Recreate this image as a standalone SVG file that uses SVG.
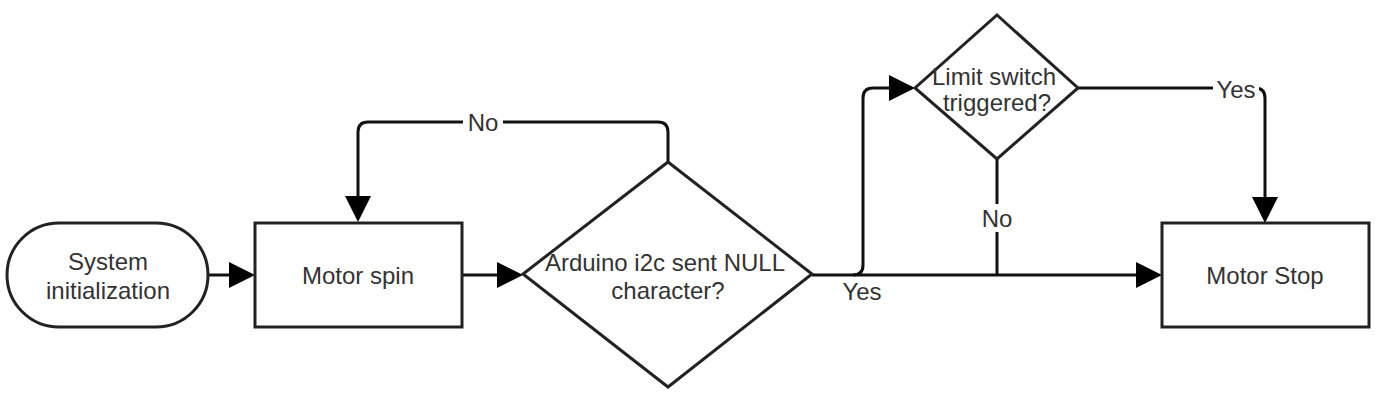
<svg xmlns="http://www.w3.org/2000/svg" width="1397" height="400" viewBox="0 0 1397 400">
<defs>
<marker id="arr" viewBox="0 0 26 26" refX="2" refY="13" markerWidth="26" markerHeight="26" markerUnits="userSpaceOnUse" orient="auto">
<path d="M0,0 L26,13 L0,26 z" fill="#000"/>
</marker>
<style>
.shape{fill:#fff;stroke:#222;stroke-width:3}
.t{font-family:"Liberation Sans",Arial,sans-serif;font-size:24px;fill:#333;text-anchor:middle;dominant-baseline:central}
.c{fill:none;stroke:#111;stroke-width:3}
.bg{fill:#fff}
</style>
</defs>
<rect width="1397" height="400" fill="#fff"/>
<g id="connectors">
<path class="c" d="M208,275 L231,275" marker-end="url(#arr)"/>
<path class="c" d="M462,275 L499,275" marker-end="url(#arr)"/>
<path class="c" d="M668,162 V132 Q668,122 658,122 H368 Q358,122 358,132 V198" marker-end="url(#arr)"/>
<path class="c" d="M812,275 H1138" marker-end="url(#arr)"/>
<path class="c" d="M853,275 Q863,275 863,265 V98 Q863,88 873,88 H891" marker-end="url(#arr)"/>
<path class="c" d="M1078,88 H1255 Q1265,88 1265,98 V199" marker-end="url(#arr)"/>
<path class="c" d="M997,159 V275"/>
<rect class="bg" x="463" y="110" width="40" height="24"/>
<text class="t" x="483" y="122">No</text>
<rect class="bg" x="1213" y="77" width="46" height="24"/>
<text class="t" x="1236" y="89">Yes</text>
<rect class="bg" x="980" y="204" width="34" height="28"/>
<text class="t" x="997" y="218">No</text>
<text class="t" x="862" y="291">Yes</text>
</g>
<g id="start">
<rect class="shape" x="7" y="223" width="201" height="104" rx="52" ry="52"/>
<text class="t" x="108" y="261">System</text>
<text class="t" x="108" y="290">initialization</text>
</g>
<g id="motor-spin">
<rect class="shape" x="255" y="223" width="207" height="104"/>
<text class="t" x="358" y="275">Motor spin</text>
</g>
<g id="null-check">
<polygon class="shape" points="668,162 812,274 668,387 523,274"/>
<text class="t" x="665" y="262">Arduino i2c sent NULL</text>
<text class="t" x="668" y="290">character?</text>
</g>
<g id="limit-check">
<polygon class="shape" points="997,15 1078,88 997,159 915,88"/>
<text class="t" x="994" y="76">Limit switch</text>
<text class="t" x="997" y="102">triggered?</text>
</g>
<g id="motor-stop">
<rect class="shape" x="1162" y="223" width="207" height="104"/>
<text class="t" x="1265" y="275">Motor Stop</text>
</g>
</svg>
